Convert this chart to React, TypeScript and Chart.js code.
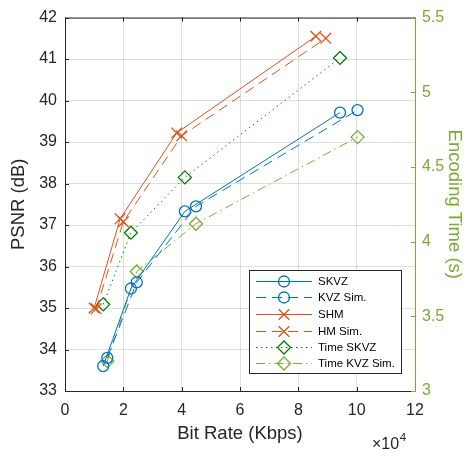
import React, { useEffect, useRef } from "react";
import { Chart, registerables } from "chart.js";

Chart.register(...registerables);

// ---- Data ----
const xTicks = [0, 20000, 40000, 60000, 80000, 100000, 120000];
const psnrTicks = [33, 34, 35, 36, 37, 38, 39, 40, 41, 42];
const timeTicks = [3, 3.5, 4, 4.5, 5, 5.5];

const bitrateSKVZ = [13100, 22600, 41100, 94300];
const psnrSKVZ = [33.6, 35.47, 37.33, 39.71];
const bitrateKVZSim = [14500, 24600, 44900, 100300];
const psnrKVZSim = [33.8, 35.62, 37.45, 39.77];
const bitrateSHM = [10000, 18900, 38300, 86000];
const psnrSHM = [35.0, 37.15, 39.22, 41.55];
const bitrateHMSim = [10700, 20000, 40000, 89400];
const psnrHMSim = [34.98, 37.08, 39.15, 41.5];
const timeSKVZ = [3.58, 4.06, 4.43, 5.23];
const timeKVZSim = [3.2, 3.8, 4.12, 4.7];

const BLUE = "#0072BD";
const ORANGE = "#D95319";
const DGREEN = "#008000";
const LGREEN = "#77AC30";
const AXIS = "#262626";
const GRID = "rgba(38,38,38,0.15)";
const FONT = "'Liberation Sans', Arial, Helvetica, sans-serif";

const pts = (xs: number[], ys: number[]) => xs.map((x, i) => ({ x, y: ys[i] }));

type Series = {
  label: string;
  xs: number[];
  ys: number[];
  axis: string;
  color: string;
  dash: number[];
  style: string;
  radius: number;
};

const series: Series[] = [
  { label: "SKVZ", xs: bitrateSKVZ, ys: psnrSKVZ, axis: "y", color: BLUE, dash: [], style: "circle", radius: 5.5 },
  { label: "KVZ Sim.", xs: bitrateKVZSim, ys: psnrKVZSim, axis: "y", color: BLUE, dash: [10, 6], style: "circle", radius: 5.5 },
  { label: "SHM", xs: bitrateSHM, ys: psnrSHM, axis: "y", color: ORANGE, dash: [], style: "crossRot", radius: 7.5 },
  { label: "HM Sim.", xs: bitrateHMSim, ys: psnrHMSim, axis: "y", color: ORANGE, dash: [10, 6], style: "crossRot", radius: 7.5 },
  { label: "Time SKVZ", xs: bitrateSKVZ, ys: timeSKVZ, axis: "y2", color: DGREEN, dash: [1.5, 3.5], style: "rectRot", radius: 6.5 },
  { label: "Time KVZ Sim.", xs: bitrateKVZSim, ys: timeKVZSim, axis: "y2", color: LGREEN, dash: [9, 4, 1.5, 4], style: "rectRot", radius: 6.5 },
];

function drawMarker(ctx: CanvasRenderingContext2D, style: string, x: number, y: number, r: number) {
  ctx.beginPath();
  if (style === "circle") {
    ctx.arc(x, y, r, 0, Math.PI * 2);
  } else if (style === "crossRot") {
    const o = r * Math.SQRT1_2;
    ctx.moveTo(x - o, y - o);
    ctx.lineTo(x + o, y + o);
    ctx.moveTo(x + o, y - o);
    ctx.lineTo(x - o, y + o);
  } else {
    ctx.moveTo(x - r, y);
    ctx.lineTo(x, y - r);
    ctx.lineTo(x + r, y);
    ctx.lineTo(x, y + r);
    ctx.closePath();
  }
  ctx.stroke();
}

const framePlugin = {
  id: "frame",
  beforeDatasetsDraw(chart: any) {
    const { ctx, chartArea } = chart;
    const { left, right, top, bottom } = chartArea;
    const xs = chart.scales.x;
    const yl = chart.scales.y;
    const yr = chart.scales.y2;
    const tl = 4;
    ctx.save();
    ctx.lineWidth = 1;
    ctx.strokeStyle = AXIS;
    ctx.beginPath();
    ctx.moveTo(left + 0.5, top + 0.5);
    ctx.lineTo(right, top + 0.5);
    ctx.moveTo(left + 0.5, top);
    ctx.lineTo(left + 0.5, bottom);
    ctx.moveTo(left, bottom + 0.5);
    ctx.lineTo(right, bottom + 0.5);
    xTicks.forEach((v) => {
      const px = Math.round(xs.getPixelForValue(v)) + 0.5;
      ctx.moveTo(px, bottom);
      ctx.lineTo(px, bottom - tl);
      ctx.moveTo(px, top);
      ctx.lineTo(px, top + tl);
    });
    psnrTicks.forEach((v) => {
      const py = Math.round(yl.getPixelForValue(v)) + 0.5;
      ctx.moveTo(left, py);
      ctx.lineTo(left + tl, py);
    });
    ctx.stroke();
    ctx.strokeStyle = LGREEN;
    ctx.beginPath();
    ctx.moveTo(right + 0.5, top);
    ctx.lineTo(right + 0.5, bottom + 1);
    timeTicks.forEach((v) => {
      const py = Math.round(yr.getPixelForValue(v)) + 0.5;
      ctx.moveTo(right, py);
      ctx.lineTo(right - tl, py);
    });
    ctx.stroke();
    ctx.restore();
  },
  afterDatasetsDraw(chart: any) {
    const { ctx } = chart;
    ctx.save();
    // Legend box
    const bx = 249.5, by = 270.5, bw = 152, bh = 103;
    ctx.fillStyle = "#ffffff";
    ctx.fillRect(bx, by, bw, bh);
    ctx.strokeStyle = AXIS;
    ctx.lineWidth = 1;
    ctx.strokeRect(bx, by, bw, bh);
    const rowY = [280.7, 297.3, 314, 330.5, 347, 363.3];
    ctx.font = `11.5px ${FONT}`;
    ctx.textBaseline = "middle";
    ctx.textAlign = "left";
    series.forEach((s, i) => {
      const y = Math.round(rowY[i]) + 0.5;
      ctx.strokeStyle = s.color;
      ctx.lineWidth = 1;
      ctx.setLineDash(s.dash);
      ctx.beginPath();
      ctx.moveTo(256, y);
      ctx.lineTo(312, y);
      ctx.stroke();
      ctx.setLineDash([]);
      ctx.lineWidth = 1.3;
      drawMarker(ctx, s.style, 284, y, s.radius);
      ctx.fillStyle = "#000000";
      ctx.fillText(s.label, 318, y + 0.5);
    });
    // exponent label
    ctx.fillStyle = AXIS;
    ctx.textBaseline = "alphabetic";
    ctx.font = `16px ${FONT}`;
    ctx.fillText("\u00d710", 372, 449);
    const w = ctx.measureText("\u00d710").width;
    ctx.font = `11.5px ${FONT}`;
    ctx.fillText("4", 372 + w + 0.5, 441);
    ctx.restore();
  },
};

export default function App() {
  const ref = useRef<HTMLCanvasElement | null>(null);
  useEffect(() => {
    if (!ref.current) return;
    const datasets = series.map((s) => ({
      label: s.label,
      data: pts(s.xs, s.ys),
      yAxisID: s.axis,
      borderColor: s.color,
      backgroundColor: "rgba(0,0,0,0)",
      borderWidth: 1,
      borderDash: s.dash,
      pointStyle: s.style,
      pointRadius: s.radius,
      pointBorderWidth: 1.3,
      pointBorderColor: s.color,
      pointBackgroundColor: "rgba(0,0,0,0)",
      showLine: true,
      tension: 0,
      fill: false,
    }));
    const chart = new Chart(ref.current, {
      type: "scatter",
      data: { datasets },
      plugins: [framePlugin],
      options: {
        animation: false,
        responsive: false,
        devicePixelRatio: 1,
        layout: { padding: { top: 12, left: 0, right: 0, bottom: 0 } },
        plugins: { legend: { display: false }, tooltip: { enabled: false } },
        scales: {
          x: {
            type: "linear",
            min: 0,
            max: 120000,
            afterFit: (s: any) => { s.height = 65; },
            afterBuildTicks: (s: any) => { s.ticks = xTicks.map((v) => ({ value: v })); },
            ticks: {
              color: AXIS,
              font: { family: FONT, size: 16 },
              padding: 10,
              maxRotation: 0,
              callback: (v: any) => String(Number(v) / 10000),
            },
            grid: { color: GRID, drawTicks: false },
            border: { display: false },
            title: {
              display: true,
              text: "Bit Rate (Kbps)",
              color: AXIS,
              font: { family: FONT, size: 18.5 },
              padding: { top: 0, bottom: 11 },
            },
          },
          y: {
            type: "linear",
            position: "left",
            min: 33,
            max: 42,
            afterFit: (s: any) => { s.width = 65; },
            afterBuildTicks: (s: any) => { s.ticks = psnrTicks.map((v) => ({ value: v })); },
            ticks: {
              color: AXIS,
              font: { family: FONT, size: 16 },
              padding: 8,
              callback: (v: any) => String(v),
            },
            grid: { color: GRID, drawTicks: false },
            border: { display: false },
            title: {
              display: true,
              text: "PSNR (dB)",
              color: AXIS,
              font: { family: FONT, size: 18.5 },
              padding: { top: 8, bottom: 0 },
            },
          },
          y2: {
            type: "linear",
            position: "right",
            min: 3,
            max: 5.5,
            afterFit: (s: any) => { s.width = 60; },
            afterBuildTicks: (s: any) => { s.ticks = timeTicks.map((v) => ({ value: v })); },
            ticks: {
              color: LGREEN,
              font: { family: FONT, size: 16 },
              padding: 7,
              callback: (v: any) => String(v),
            },
            grid: { display: false, drawTicks: false },
            border: { display: false },
            title: {
              display: true,
              text: "Encoding Time (s)",
              color: LGREEN,
              font: { family: FONT, size: 18.5 },
              padding: { top: 10, bottom: 0 },
            },
          },
        },
      } as any,
    });
    return () => chart.destroy();
  }, []);
  return (
    <div style={{ position: "absolute", left: 0, top: 0, width: 475, height: 456, background: "#fff" }}>
      <canvas ref={ref} width={475} height={456} style={{ display: "block" }} />
    </div>
  );
}
